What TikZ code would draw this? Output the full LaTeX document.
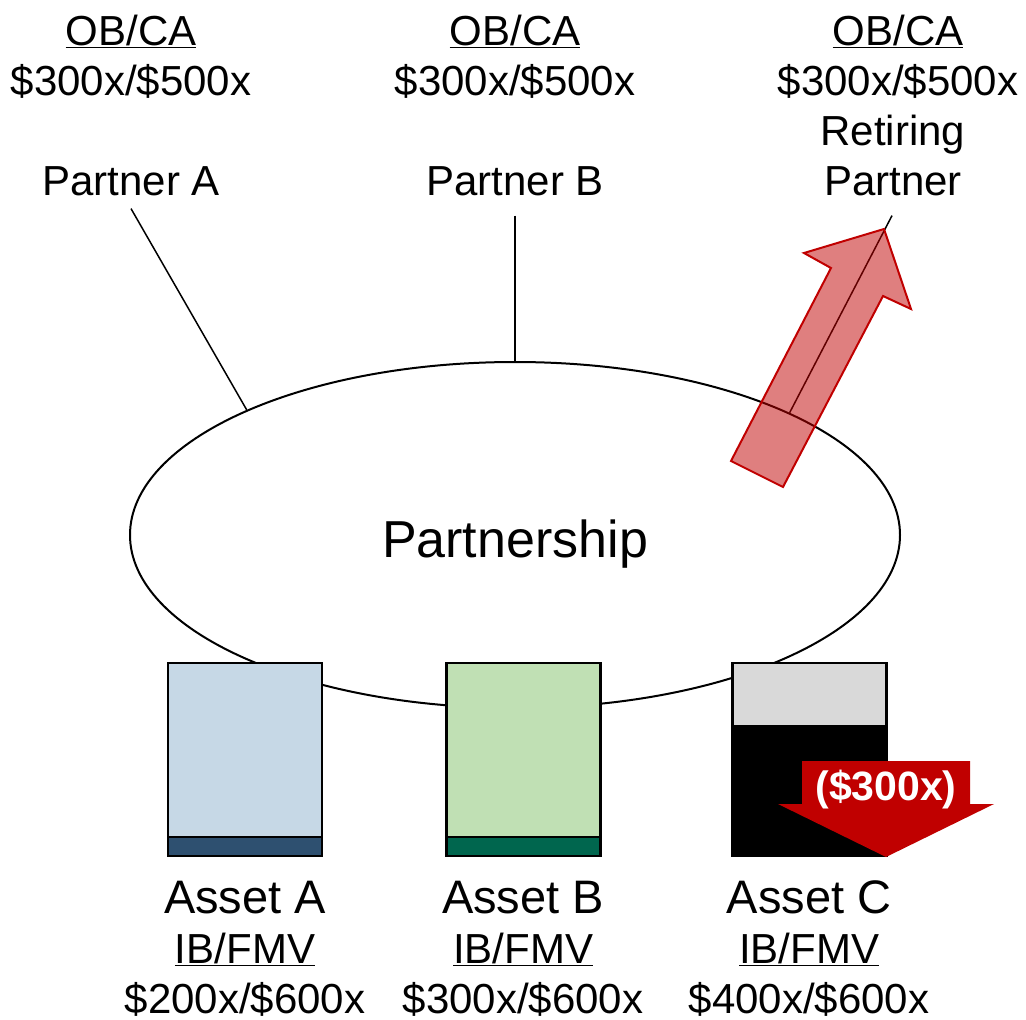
\documentclass[tikz,border=0pt]{standalone}
\usepackage{fontspec}
\setmainfont{Liberation Sans}
\usetikzlibrary{shapes.geometric}
\definecolor{redA}{HTML}{C00000}
\definecolor{boxAfill}{HTML}{C6D8E6}
\definecolor{boxAbar}{HTML}{2E5070}
\definecolor{boxBfill}{HTML}{C0E0B4}
\definecolor{boxBbar}{HTML}{00664E}
\definecolor{boxCfill}{HTML}{D9D9D9}
\tikzset{
  lbl/.style={inner sep=0pt, anchor=base, font=\fontsize{42}{50}\selectfont},
  asset/.style={inner sep=0pt, anchor=base, font=\fontsize{47}{56}\selectfont},
  assetbox/.style={draw=black, line width=2.5pt, rectangle, minimum width=154pt, minimum height=193pt, inner sep=0pt, outer sep=0pt},
  link/.style={line width=1.5pt},
}
\begin{document}
\begin{tikzpicture}[x=1pt,y=-1pt]
\useasboundingbox (0,0) rectangle (1026,1020);
% partnership ellipse
\node[ellipse, draw, line width=2pt, minimum width=770pt, minimum height=346pt, inner sep=0pt] (ps) at (515,535) {};
\node[inner sep=0pt, anchor=base, font=\fontsize{52}{60}\selectfont] (pslbl) at (515,557) {Partnership};
% top labels
\node[lbl] (a1) at (131,45) {\underline{OB/CA}};
\node[lbl] (a2) at (131,95) {\$300x/\$500x};
\node[lbl] (pA) at (131,195) {Partner A};
\node[lbl] (b1) at (515,45) {\underline{OB/CA}};
\node[lbl] (b2) at (515,95) {\$300x/\$500x};
\node[lbl] (pB) at (515,195) {Partner B};
\node[lbl] (c1) at (898,45) {\underline{OB/CA}};
\node[lbl] (c2) at (898,95) {\$300x/\$500x};
\node[lbl] (c3) at (893,145) {Retiring};
\node[lbl] (pC) at (893,195) {Partner};
% connectors
\draw[link] ([yshift=-13pt]pA.south) -- (ps.155.7);
\draw[link] ([yshift=-20pt]pB.south) -- (ps.north);
\draw[link] ([xshift=-1pt,yshift=-20pt]pC.south) -- (ps.24.3);
% retiring arrow (semi-transparent)
\draw[draw=redA, line width=2pt, fill=redA, fill opacity=0.5]
  (731,461) -- (831,268) -- (804,253) -- (884,229) -- (911,309) -- (883,296) -- (783,487) -- cycle;
% asset boxes
\node[assetbox, fill=boxAfill] (bA) at (245,759.5) {};
\draw[line width=2.5pt, fill=boxAbar] (bA.south west) rectangle ([yshift=19pt]bA.south east);
\node[assetbox, fill=boxBfill] (bB) at (523.5,759.5) {};
\draw[line width=2.5pt, fill=boxBbar] (bB.south west) rectangle ([yshift=19pt]bB.south east);
\node[assetbox, fill=black] (bC) at (809.5,759.5) {};
\draw[line width=2.5pt, fill=boxCfill] (bC.north west) rectangle ([yshift=-63pt]bC.north east);
% red down arrow
\fill[redA] (802,761) -- (970,761) -- (970,804) -- (994,804) -- (886,857) -- (778,804) -- (802,804) -- cycle;
\node[inner sep=0pt, text=white, font=\bfseries\fontsize{41}{48}\selectfont] (loss) at (886,790) {(\$300x)};
% bottom labels
\node[asset] (nA) at (245,913) {Asset A};
\node[lbl] (iA) at (245,963) {\underline{IB/FMV}};
\node[lbl] (vA) at (245,1013) {\$200x/\$600x};
\node[asset] (nB) at (523,913) {Asset B};
\node[lbl] (iB) at (523,963) {\underline{IB/FMV}};
\node[lbl] (vB) at (523,1013) {\$300x/\$600x};
\node[asset] (nC) at (809,913) {Asset C};
\node[lbl] (iC) at (809,963) {\underline{IB/FMV}};
\node[lbl] (vC) at (809,1013) {\$400x/\$600x};
\end{tikzpicture}
\end{document}
